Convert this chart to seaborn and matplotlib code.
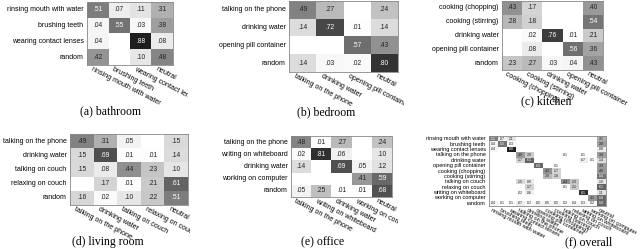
import numpy as np
import pandas as pd
import matplotlib
matplotlib.use('Agg')
import matplotlib.pyplot as plt
from matplotlib.transforms import Bbox, TransformedBbox
import seaborn as sns

# confusion matrices (0 = empty cell)
bath_rows = ['rinsing mouth with water', 'brushing teeth', 'wearing contact lenses', 'random']
bath_cols = ['rinsing mouth with water', 'brushing teeth', 'wearing contact lenses', 'neutral']
bath_vals = [[.51, .07, .11, .31],
             [.04, .55, .03, .38],
             [.04, 0, .88, .08],
             [.42, 0, .10, .48]]

bed_rows = ['talking on the phone', 'drinking water', 'opening pill container', 'random']
bed_cols = ['talking on the phone', 'drinking water', 'opening pill container', 'neutral']
bed_vals = [[.49, .27, 0, .24],
            [.14, .72, .01, .14],
            [0, 0, .57, .43],
            [.14, .03, .02, .80]]

kit_rows = ['cooking (chopping)', 'cooking (stirring)', 'drinking water', 'opening pill container', 'random']
kit_cols = ['cooking (chopping)', 'cooking (stirring)', 'drinking water', 'opening pill container', 'neutral']
kit_vals = [[.43, .17, 0, 0, .40],
            [.28, .18, 0, 0, .54],
            [0, .02, .76, .01, .21],
            [0, .08, 0, .56, .36],
            [.23, .27, .03, .04, .43]]

liv_rows = ['talking on the phone', 'drinking water', 'talking on couch', 'relaxing on couch', 'random']
liv_cols = ['talking on the phone', 'drinking water', 'talking on couch', 'relaxing on couch', 'neutral']
liv_vals = [[.49, .31, .05, 0, .15],
            [.15, .69, .01, .01, .14],
            [.15, .08, .44, .23, .10],
            [0, .17, .01, .21, .61],
            [.16, .02, .10, .22, .51]]

off_rows = ['talking on the phone', 'writing on whiteboard', 'drinking water', 'working on computer', 'random']
off_cols = ['talking on the phone', 'writing on whiteboard', 'drinking water', 'working on computer', 'neutral']
off_vals = [[.48, .01, .27, 0, .24],
            [.02, .81, .06, 0, .10],
            [.14, 0, .69, .05, .12],
            [0, 0, 0, .41, .59],
            [.05, .25, .01, .01, .68]]

all_acts = ['rinsing mouth with water', 'brushing teeth', 'wearing contact lenses',
            'talking on the phone', 'drinking water', 'opening pill container',
            'cooking (chopping)', 'cooking (stirring)', 'talking on couch',
            'relaxing on couch', 'writing on whiteboard', 'working on computer']
all_rows = all_acts + ['random']
all_cols = all_acts + ['neutral']
all_vals = [[.51, .07, .11, 0, 0, 0, 0, 0, 0, 0, 0, 0, .31],
            [.04, .55, .03, 0, 0, 0, 0, 0, 0, 0, 0, 0, .38],
            [.04, 0, .88, 0, 0, 0, 0, 0, 0, 0, 0, 0, .08],
            [0, 0, 0, .40, .20, 0, 0, 0, .01, 0, .01, 0, .38],
            [0, 0, 0, .17, .61, 0, 0, 0, 0, 0, .07, .01, .14],
            [0, 0, 0, 0, 0, .60, 0, .01, 0, 0, 0, 0, .39],
            [0, 0, 0, 0, 0, 0, .43, .17, 0, 0, 0, 0, .40],
            [0, 0, 0, 0, 0, 0, .28, .18, 0, 0, 0, 0, .54],
            [0, 0, 0, .15, .08, 0, 0, 0, .44, .23, 0, 0, .10],
            [0, 0, 0, 0, .17, 0, 0, 0, .01, .21, 0, 0, .61],
            [0, 0, 0, .02, .06, 0, 0, 0, 0, 0, .81, 0, .11],
            [0, 0, 0, 0, 0, 0, 0, 0, 0, 0, 0, .41, .59],
            [.04, .01, .01, .07, .02, .05, .05, .05, .02, .04, .03, .02, .59]]

captions = ['(a) bathroom', '(b) bedroom', '(c) kitchen',
            '(d) living room', '(e) office', '(f) overall']

W, H = 640, 249


def px_axes(fig, x0, y0, x1, y1):
    # matrix box in pixel coordinates (top-left origin)
    return fig.add_axes([x0 / W, 1 - y1 / H, (x1 - x0) / W, (y1 - y0) / H])


def fmt(v):
    return ('%.2f' % v).lstrip('0')


def draw_matrix(fig, box, rows, cols, vals, fs=5.0, afs=4.8, clip_x=W):
    ax = px_axes(fig, *box)
    df = pd.DataFrame(vals, index=rows, columns=cols)
    labels = df.map(fmt)
    sns.heatmap(df, ax=ax, cmap='gray_r', vmin=0, vmax=1, cbar=False,
                mask=(df == 0), annot=labels, fmt='',
                xticklabels=True, yticklabels=True,
                annot_kws={'fontsize': afs, 'family': 'Liberation Sans'})
    # dark text on light cells, white on dark cells
    for t, v in zip(ax.texts, df.values[df.values != 0]):
        t.set_color('white' if v > 0.5 else '#222222')
    for sp in ax.spines.values():
        sp.set_visible(True)
        sp.set_color('#888888')
        sp.set_linewidth(0.6)
    ax.tick_params(length=0, pad=2.5)
    ax.set_yticklabels(rows, rotation=0, fontsize=fs, family='Liberation Sans')
    # column labels start near the left side of each column
    ax.set_xticks(np.arange(len(cols)) + 0.2)
    ax.set_xticklabels(cols, rotation=-27, ha='left', va='center',
                       rotation_mode='anchor', fontsize=fs, family='Liberation Sans')
    clip = TransformedBbox(Bbox([[0, 0], [clip_x / W, 1]]), fig.transFigure)
    for lbl in ax.get_xticklabels():
        lbl.set_clip_on(True)
        lbl.set_clip_box(clip)
    ax.set_xlabel('')
    ax.set_ylabel('')
    return ax


fig = plt.figure(figsize=(6.4, 2.49), dpi=100)

draw_matrix(fig, (87, 2, 173, 65), bath_rows, bath_cols, bath_vals, clip_x=188)
draw_matrix(fig, (289, 1, 398, 72), bed_rows, bed_cols, bed_vals, clip_x=404)
draw_matrix(fig, (502, 1, 603, 70), kit_rows, kit_cols, kit_vals)
draw_matrix(fig, (70, 134, 188, 205), liv_rows, liv_cols, liv_vals, clip_x=190)
draw_matrix(fig, (291, 136, 392, 197), off_rows, off_cols, off_vals, clip_x=398)
draw_matrix(fig, (489, 136, 606, 206), all_rows, all_cols, all_vals, fs=4.0, afs=2.6)

cap_pos = [(111, 111), (326, 112), (546, 101), (108, 242), (323, 242), (589, 242)]
for (cx, cy), cap in zip(cap_pos, captions):
    fig.text(cx / W, 1 - cy / H, cap, ha='center', va='center',
             fontsize=8.5, family='Liberation Serif')

fig.savefig('out.png', dpi=100)
